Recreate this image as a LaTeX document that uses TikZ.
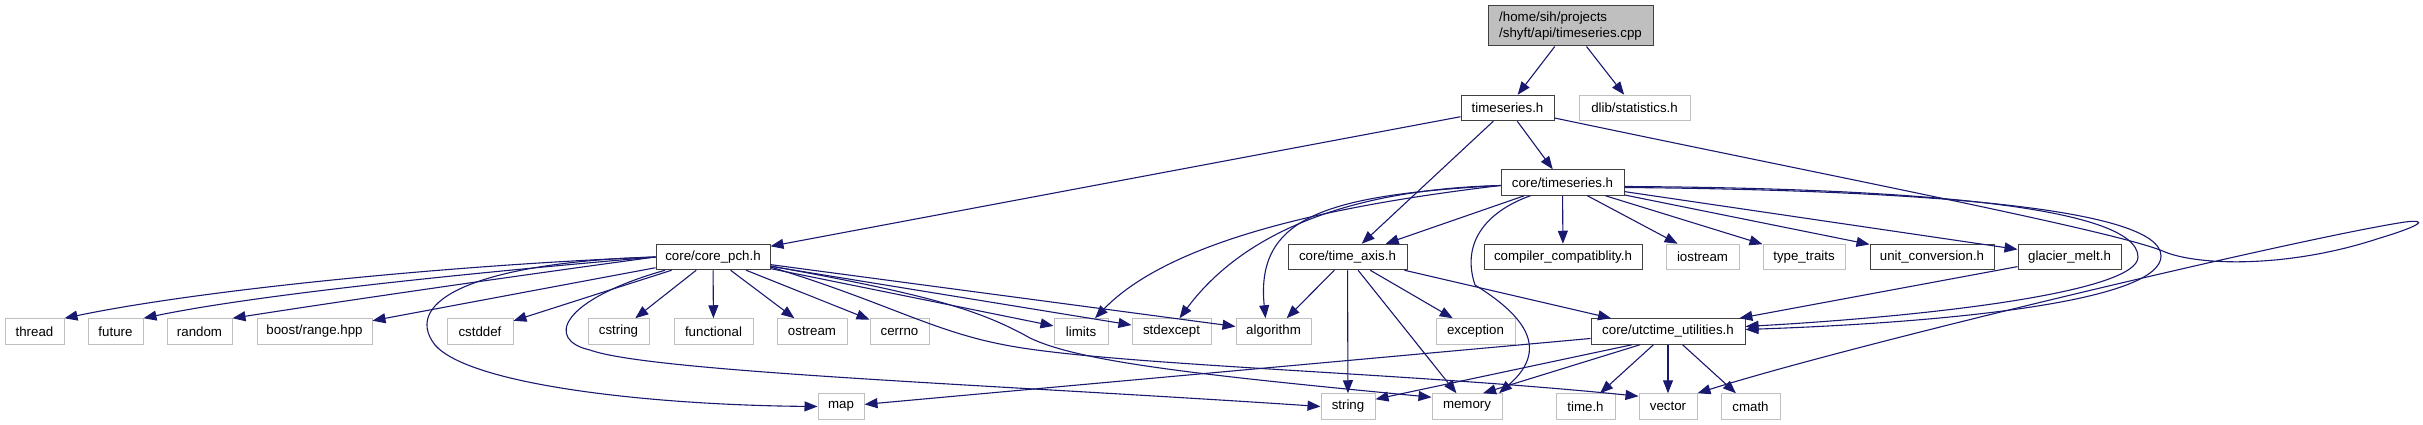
\documentclass[tikz,border=0pt]{standalone}
\usepackage{fontspec}
\setmainfont{Liberation Sans}
\usetikzlibrary{arrows.meta}
\definecolor{mblue}{HTML}{191970}
\definecolor{gdark}{HTML}{404040}
\definecolor{glight}{HTML}{BFBFBF}
\begin{document}
\begin{tikzpicture}[x=1pt,y=-1pt,
  box/.style={draw=gdark, line width=1pt, fill=white, inner sep=0pt, minimum height=25.5pt, font=\fontsize{13.3}{15.5}\selectfont, text=black},
  ext/.style={box, draw=glight},
  e/.style={draw=mblue, line width=1.1pt, -{Triangle[length=13pt,width=10pt]}}]
\useasboundingbox (0,0) rectangle (2423,425);
% row 0-2
\node[box, fill=glight, minimum width=165pt, minimum height=40pt, align=left] (root) at (1570.5,26) {/home/sih/projects\\/shyft/api/timeseries.cpp};
\node[box, minimum width=93pt] (tsh) at (1507.5,108) {timeseries.h};
\node[ext, minimum width=111pt] (dlib) at (1634.5,108) {dlib/statistics.h};
\node[box, minimum width=123pt] (cts) at (1562.5,182.5) {core/timeseries.h};
% row 3
\node[box, minimum width=114pt] (pch) at (713,257) {core/core\_pch.h};
\node[box, minimum width=119pt] (tax) at (1347.5,257) {core/time\_axis.h};
\node[box, minimum width=158pt] (cc) at (1563,257) {compiler\_compatiblity.h};
\node[ext, minimum width=73pt] (ios) at (1702.5,257) {iostream};
\node[ext, minimum width=82pt] (tt) at (1804,257) {type\_traits};
\node[box, minimum width=124pt] (uc) at (1932,257) {unit\_conversion.h};
\node[box, minimum width=103pt] (gm) at (2069.5,257) {glacier\_melt.h};
% row 4
\node[ext, minimum width=59pt] (thread) at (34.5,331.5) {thread};
\node[ext, minimum width=55pt] (future) at (115.5,331.5) {future};
\node[ext, minimum width=65pt] (random) at (199.5,331.5) {random};
\node[ext, minimum width=115pt] (boost) at (314.5,331.5) {boost/range.hpp};
\node[ext, minimum width=66pt] (cstddef) at (480,331.5) {cstddef};
\node[ext, minimum width=61pt] (cstring) at (618.5,331.5) {cstring};
\node[ext, minimum width=79pt] (functional) at (713.5,331.5) {functional};
\node[ext, minimum width=70pt] (ostream) at (812,331.5) {ostream};
\node[ext, minimum width=59pt] (cerrno) at (899.5,331.5) {cerrno};
\node[ext, minimum width=54pt] (limits) at (1081,331.5) {limits};
\node[ext, minimum width=79pt] (stdexcept) at (1171.5,331.5) {stdexcept};
\node[ext, minimum width=75pt] (algorithm) at (1273.5,331.5) {algorithm};
\node[ext, minimum width=79pt] (exception) at (1475.5,331.5) {exception};
\node[box, minimum width=154pt] (utc) at (1668,331.5) {core/utctime\_utilities.h};
% row 5
\node[ext, minimum width=46pt] (map) at (841,406.5) {map};
\node[ext, minimum width=54pt] (string) at (1348,406.5) {string};
\node[ext, minimum width=70pt] (memory) at (1467,406.5) {memory};
\node[ext, minimum width=59pt] (timeh) at (1585.5,406.5) {time.h};
\node[ext, minimum width=58pt] (vector) at (1668,406.5) {vector};
\node[ext, minimum width=59pt] (cmath) at (1750.5,406.5) {cmath};

% root / timeseries.h
\draw[e] (root) -- (tsh);
\draw[e] (root) -- (dlib);
\draw[e] (tsh) -- (cts);
\draw[e] (tsh) -- (pch);
\draw[e] (tsh) -- (tax);
\draw[e] ([yshift=-10pt]tsh.east) .. controls (1850,180) and (2120,232) .. (2165,252)
   .. controls (2200,266) and (2290,268) .. (2380,238)
   .. controls (2420,226) and (2430,219) .. (2405,222)
   .. controls (2300,238) and (1850,345) .. (vector.north east);

% core/timeseries.h
\draw[e] (cts) -- (tax);
\draw[e] (cts) -- (cc);
\draw[e] (cts) -- (ios);
\draw[e] (cts) -- (tt);
\draw[e] (cts) -- (uc);
\draw[e] (cts) -- (gm);
\draw[e] ([yshift=-3pt]cts.west) .. controls (1380,200) and (1180,230) .. ([xshift=14pt]limits.north);
\draw[e] ([yshift=-3pt]cts.west) .. controls (1400,188) and (1260,210) .. ([xshift=8pt]stdexcept.north);
\draw[e] ([yshift=-3pt]cts.west) .. controls (1330,195) and (1255,215) .. ([xshift=-8pt]algorithm.north);
\draw[e] ([xshift=-32pt]cts.south) .. controls (1490,210) and (1460,240) .. (1475,285)
   .. controls (1515,310) and (1555,345) .. ([xshift=32pt]memory.north);
\draw[e] ([yshift=-4pt]cts.east) .. controls (1900,188) and (2138,205) .. (2138,257)
   .. controls (2138,290) and (1950,315) .. ([yshift=5pt]utc.east);
\draw[e] ([yshift=-5pt]cts.east) .. controls (1920,190) and (2161,208) .. (2161,256)
   .. controls (2161,300) and (1960,322) .. ([yshift=2pt]utc.east);

% core/time_axis.h
\draw[e] (tax) -- (algorithm);
\draw[e] (tax) -- (string);
\draw[e] (tax) -- (memory);
\draw[e] (tax) -- (exception);
\draw[e] (tax) -- (utc);

% glacier_melt.h
\draw[e] (gm) -- (utc);

% core/utctime_utilities.h
\draw[e] (utc) -- (map);
\draw[e] ([xshift=-36pt]utc.south) -- ([yshift=-6pt]string.north east);
\draw[e] ([xshift=-28pt]utc.south) -- ([xshift=16pt]memory.north);
\draw[e] (utc) -- (timeh);
\draw[e] (utc) -- (vector);
\draw[e] (utc) -- (cmath);

% core/core_pch.h
\draw[e] (pch.west) .. controls (450,265) and (200,290) .. (thread.north east);
\draw[e] (pch.west) .. controls (480,272) and (260,294) .. (future.north east);
\draw[e] (pch.west) .. controls (500,278) and (330,303) .. (random.north east);
\draw[e] (pch) -- (boost);
\draw[e] (pch) -- (cstddef);
\draw[e] (pch) -- (cstring);
\draw[e] (pch) -- (functional);
\draw[e] (pch) -- (ostream);
\draw[e] (pch) -- (cerrno);
\draw[e] (pch) -- (limits);
\draw[e] (pch) -- (stdexcept);
\draw[e] (pch) -- (algorithm);
\draw[e] ([yshift=-9pt]pch.east) .. controls (930,295) and (980,310) .. (1030,338)
   .. controls (1080,362) and (1200,375) .. ([yshift=-4pt]memory.north west);
\draw[e] ([yshift=-10pt]pch.east) .. controls (880,300) and (930,330) .. (1000,344)
   .. controls (1100,365) and (1400,372) .. ([yshift=-3pt]vector.north west);
\draw[e] ([xshift=-48pt]pch.south) .. controls (560,300) and (545,340) .. (590,350)
   .. controls (650,372) and (1000,385) .. (string.west);
\draw[e] (pch.west) .. controls (480,262) and (400,300) .. (435,345)
   .. controls (470,385) and (650,405) .. (map.west);
\end{tikzpicture}
\end{document}
